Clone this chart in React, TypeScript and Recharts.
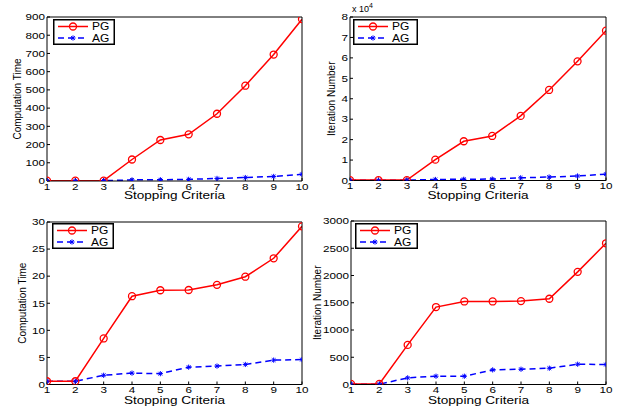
import React from 'react';
import { LineChart, Line, XAxis, YAxis, Legend } from 'recharts';

// ---------- data ----------
const criteria = [1, 2, 3, 4, 5, 6, 7, 8, 9, 10];

// top-left: computation time
const timeLargePG = [2, 2, 2, 118, 225, 256, 369, 523, 694, 888];
const timeLargeAG = [1, 1, 2, 6, 7, 9, 14, 19, 25, 37];
// top-right: iteration number (x 10^4)
const iterLargePG = [0.02, 0.02, 0.02, 1.02, 1.92, 2.18, 3.16, 4.43, 5.83, 7.33];
const iterLargeAG = [0.01, 0.01, 0.02, 0.05, 0.06, 0.07, 0.13, 0.17, 0.22, 0.31];
// bottom-left: computation time
const timeSmallPG = [0.6, 0.6, 8.5, 16.3, 17.4, 17.45, 18.4, 19.9, 23.3, 29.2];
const timeSmallAG = [0.6, 0.6, 1.7, 2.1, 2.0, 3.2, 3.4, 3.7, 4.5, 4.6];
// bottom-right: iteration number
const iterSmallPG = [10, 10, 726, 1421, 1524, 1524, 1530, 1573, 2067, 2591];
const iterSmallAG = [5, 5, 122, 152, 152, 268, 280, 299, 372, 366];

const ticksTimeLarge = [0, 100, 200, 300, 400, 500, 600, 700, 800, 900];
const ticksIterLarge = [0, 1, 2, 3, 4, 5, 6, 7, 8];
const ticksTimeSmall = [0, 5, 10, 15, 20, 25, 30];
const ticksIterSmall = [0, 500, 1000, 1500, 2000, 2500, 3000];

const seriesNames = ['PG', 'AG'];
const xTitle = 'Stopping Criteria';
const timeTitle = 'Computation Time';
const iterTitle = 'Iteration Number';

const FONT = '"Liberation Sans", Arial, Helvetica, sans-serif';
const RED = '#ff0000';
const BLUE = '#0000ff';

const buildRows = (pg: number[], ag: number[]) =>
  criteria.map((c, i) => ({ x: c, pg: pg[i], ag: ag[i] }));

// ---------- small drawing helpers ----------
const Star = ({ cx, cy, s = 2.6 }: { cx: number; cy: number; s?: number }) => {
  const d = s * 0.72;
  return (
    <g stroke={BLUE} strokeWidth={1}>
      <line x1={cx - s} y1={cy} x2={cx + s} y2={cy} />
      <line x1={cx} y1={cy - s} x2={cx} y2={cy + s} />
      <line x1={cx - d} y1={cy - d} x2={cx + d} y2={cy + d} />
      <line x1={cx - d} y1={cy + d} x2={cx + d} y2={cy - d} />
    </g>
  );
};

const renderStar = (props: any) => {
  const { cx, cy, index } = props;
  if (cx == null || cy == null) return <g key={`s${index}`} />;
  return (
    <g key={`s${index}`}>
      <Star cx={cx} cy={cy} />
    </g>
  );
};

const XTick = (props: any) => {
  const { x, y, payload } = props;
  return (
    <text
      transform={`translate(${x},${y + 6.5}) scale(1.3,1)`}
      textAnchor="middle"
      fontSize={9}
      fontFamily={FONT}
      fill="#000"
    >
      {payload.value}
    </text>
  );
};

const YTick = (props: any) => {
  const { x, y, payload } = props;
  return (
    <text
      transform={`translate(${x},${y + 3.3}) scale(1.3,1)`}
      textAnchor="end"
      fontSize={9}
      fontFamily={FONT}
      fill="#000"
    >
      {payload.value}
    </text>
  );
};

const LegendBox = ({ w }: { w: number }) => (
  <svg width={w} height={26} style={{ display: 'block' }}>
    <rect x={0.75} y={0.75} width={w - 1.5} height={24.5} fill="#fff" stroke="#000" strokeWidth={1.5} />
    <line x1={5} x2={35} y1={7.5} y2={7.5} stroke={RED} strokeWidth={1.5} />
    <circle cx={20} cy={7.5} r={3.5} fill="none" stroke={RED} strokeWidth={1.3} />
    <text transform="translate(39,11.3) scale(1.2,1)" fontSize={10} fontFamily={FONT} fill="#000">
      {seriesNames[0]}
    </text>
    <line x1={5} x2={35} y1={19} y2={19} stroke={BLUE} strokeWidth={1.5} strokeDasharray="6 4" />
    <Star cx={20} cy={19} />
    <text transform="translate(39,22.8) scale(1.2,1)" fontSize={10} fontFamily={FONT} fill="#000">
      {seriesNames[1]}
    </text>
  </svg>
);

type PanelProps = {
  left: number;
  top: number;
  width: number;
  height: number;
  l: number;
  t: number;
  r: number;
  b: number;
  pg: number[];
  ag: number[];
  yMax: number;
  yTicks: number[];
  yTitle: string;
  yTitleX: number;
  xTitleDy: number;
  legendX: number;
  legendY: number;
  legendW: number;
  note?: boolean;
};

const Panel = (p: PanelProps) => {
  const data = buildRows(p.pg, p.ag);
  const xAxisH = p.height - p.b;
  const yTitleContent = (props: any) => {
    const vb = props.viewBox || {};
    const cy = vb.y + vb.height / 2;
    return (
      <g>
        <text
          transform={`translate(${p.yTitleX + 3.5},${cy}) rotate(-90)`}
          textAnchor="middle"
          fontSize={10}
          fontFamily={FONT}
          fill="#000"
        >
          {p.yTitle}
        </text>
        {p.note ? (
          <text transform={`translate(${p.l + 2},${p.t - 5})`} fontSize={9} fontFamily={FONT} fill="#000">
            {'x 10'}
            <tspan fontSize={7} dy={-4}>
              4
            </tspan>
          </text>
        ) : null}
      </g>
    );
  };
  const xTitleContent = (props: any) => {
    const vb = props.viewBox || {};
    return (
      <text
        transform={`translate(${vb.x + vb.width / 2},${vb.y + p.xTitleDy}) scale(1.27,1)`}
        textAnchor="middle"
        fontSize={10.7}
        fontFamily={FONT}
        fill="#000"
      >
        {xTitle}
      </text>
    );
  };

  return (
    <div style={{ position: 'absolute', left: p.left, top: p.top, width: p.width, height: p.height }}>
      <LineChart
        width={p.width}
        height={p.height}
        data={data}
        margin={{ top: p.t - 1, right: p.width - p.r - 1, left: 0, bottom: 0 }}
      >
        <XAxis
          type="number"
          dataKey="x"
          domain={[1, 10]}
          ticks={criteria}
          interval={0}
          allowDataOverflow
          height={xAxisH}
          tickSize={-3}
          tickMargin={5}
          tick={<XTick />}
          axisLine={{ stroke: '#000', strokeWidth: 1 }}
          tickLine={{ stroke: '#000', strokeWidth: 1 }}
          label={xTitleContent}
        />
        <XAxis
          xAxisId="top"
          orientation="top"
          type="number"
          dataKey="x"
          domain={[1, 10]}
          ticks={criteria}
          interval={0}
          allowDataOverflow
          height={1}
          tickSize={-3}
          tick={false}
          axisLine={{ stroke: '#000', strokeWidth: 1 }}
          tickLine={{ stroke: '#000', strokeWidth: 1 }}
        />
        <YAxis
          type="number"
          domain={[0, p.yMax]}
          ticks={p.yTicks}
          interval={0}
          allowDataOverflow
          width={p.l}
          tickSize={-3}
          tickMargin={5}
          tick={<YTick />}
          axisLine={{ stroke: '#000', strokeWidth: 1 }}
          tickLine={{ stroke: '#000', strokeWidth: 1 }}
          label={yTitleContent}
        />
        <YAxis
          yAxisId="right"
          orientation="right"
          type="number"
          domain={[0, p.yMax]}
          ticks={p.yTicks}
          interval={0}
          allowDataOverflow
          width={1}
          tickSize={-3}
          tick={false}
          axisLine={{ stroke: '#000', strokeWidth: 1 }}
          tickLine={{ stroke: '#000', strokeWidth: 1 }}
        />
        <Legend
          layout="vertical"
          align="center"
          verticalAlign="middle"
          content={() => <LegendBox w={p.legendW} />}
          wrapperStyle={{ left: p.legendX - p.left, top: p.legendY - p.top, width: p.legendW, height: 26 }}
        />
        <Line
          dataKey="ag"
          name={seriesNames[1]}
          stroke={BLUE}
          strokeWidth={1.5}
          strokeDasharray="6 4"
          type="linear"
          dot={renderStar}
          activeDot={false}
          isAnimationActive={false}
        />
        <Line
          dataKey="pg"
          name={seriesNames[0]}
          stroke={RED}
          strokeWidth={1.5}
          type="linear"
          dot={{ r: 3.5, stroke: RED, strokeWidth: 1.3, fill: 'none' }}
          activeDot={false}
          isAnimationActive={false}
        />
      </LineChart>
    </div>
  );
};

export default function App() {
  return (
    <div
      style={{
        position: 'absolute',
        left: 0,
        top: 0,
        width: 618,
        height: 414,
        background: '#fff',
        fontFamily: FONT,
      }}
    >
      <Panel
        left={0} top={0} width={309} height={207}
        l={47} t={17} r={302} b={181}
        pg={timeLargePG} ag={timeLargeAG}
        yMax={900} yTicks={ticksTimeLarge}
        yTitle={timeTitle} yTitleX={17} xTitleDy={18.3}
        legendX={53} legendY={19} legendW={62}
      />
      <Panel
        left={309} top={0} width={309} height={207}
        l={41} t={17} r={297} b={180.5}
        pg={iterLargePG} ag={iterLargeAG}
        yMax={8} yTicks={ticksIterLarge}
        yTitle={iterTitle} yTitleX={22} xTitleDy={18.5}
        legendX={353} legendY={19} legendW={65}
        note
      />
      <Panel
        left={0} top={207} width={309} height={207}
        l={47} t={15} r={302} b={177.5}
        pg={timeSmallPG} ag={timeSmallAG}
        yMax={30} yTicks={ticksTimeSmall}
        yTitle={timeTitle} yTitleX={22} xTitleDy={19.5}
        legendX={52} legendY={223} legendW={62}
      />
      <Panel
        left={309} top={207} width={309} height={207}
        l={42} t={14} r={297} b={177.5}
        pg={iterSmallPG} ag={iterSmallAG}
        yMax={3000} yTicks={ticksIterSmall}
        yTitle={iterTitle} yTitleX={8} xTitleDy={19.5}
        legendX={355} legendY={223} legendW={63}
      />
    </div>
  );
}
